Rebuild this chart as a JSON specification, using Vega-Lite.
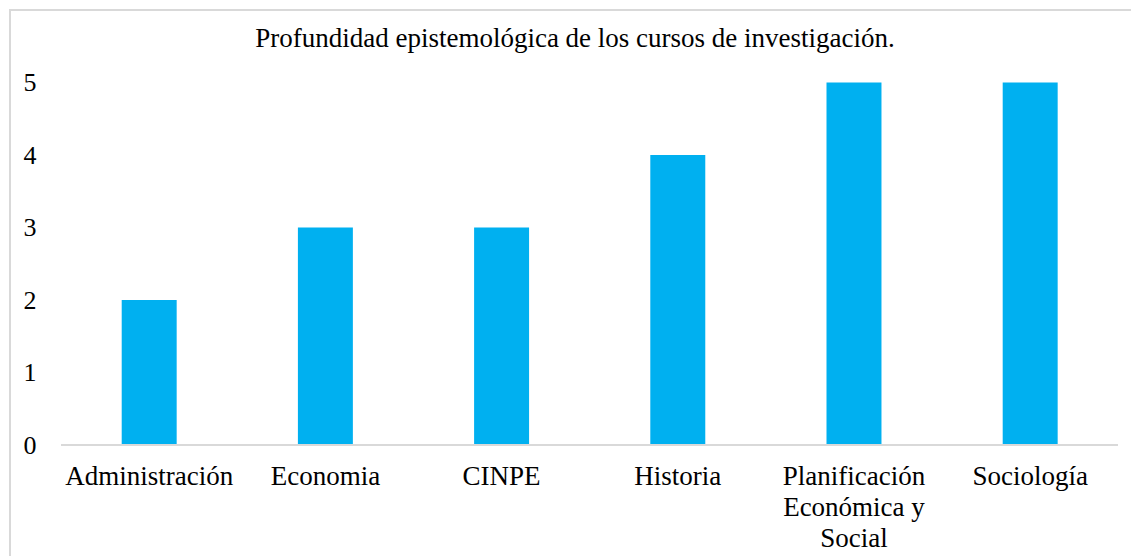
{
  "$schema": "https://vega.github.io/schema/vega-lite/v6.json",
  "width": 1130,
  "height": 560,
  "autosize": {"type": "none"},
  "padding": {"left": 10, "top": 10, "right": -9, "bottom": -14},
  "background": "white",
  "config": {
    "view": {"stroke": "#d9d9d9", "strokeWidth": 2},
    "font": "Liberation Serif"
  },
  "title": {
    "text": "Profundidad epistemológica de los cursos de investigación.",
    "font": "Liberation Serif",
    "fontSize": 27,
    "fontWeight": "normal",
    "color": "#000000",
    "anchor": "middle",
    "baseline": "alphabetic",
    "offset": -64
  },
  "data": {
    "values": [
      {"curso": "Administración", "valor": 2},
      {"curso": "Economia", "valor": 3},
      {"curso": "CINPE", "valor": 3},
      {"curso": "Historia", "valor": 4},
      {"curso": "Planificación Económica y Social", "valor": 5},
      {"curso": "Sociología", "valor": 5}
    ]
  },
  "layer": [
    {
      "mark": {"type": "bar", "color": "#00B0F0"},
      "encoding": {
        "x": {
          "field": "curso",
          "type": "nominal",
          "sort": null,
          "scale": {"paddingInner": 0.688, "paddingOuter": 0.5506, "align": 0.5757},
          "axis": {
            "title": null,
            "orient": "bottom",
            "offset": -125,
            "domain": false,
            "ticks": false,
            "labelFont": "Liberation Serif",
            "labelFontSize": 27,
            "labelColor": "#000000",
            "labelAngle": 0,
            "labelPadding": 18,
            "labelLineHeight": 31,
            "labelBaseline": "top",
            "labelLimit": 0,
            "labelExpr": "datum.label == 'Planificación Económica y Social' ? ['Planificación', 'Económica y', 'Social'] : datum.label"
          }
        },
        "y": {
          "field": "valor",
          "type": "quantitative",
          "scale": {"domain": [-1.724, 6], "nice": false, "zero": false},
          "axis": {
            "title": null,
            "values": [0, 1, 2, 3, 4, 5],
            "format": "d",
            "offset": -26,
            "domain": false,
            "ticks": false,
            "grid": false,
            "labelPadding": 0,
            "labelFont": "Liberation Serif",
            "labelFontSize": 26,
            "labelColor": "#000000"
          }
        }
      }
    },
    {
      "data": {"values": [{}]},
      "mark": {"type": "rule", "color": "#d9d9d9", "strokeWidth": 2},
      "encoding": {
        "x": {"datum": 0, "type": "quantitative", "scale": {"domain": [-0.04825, 1.02081], "nice": false, "zero": false}, "axis": null},
        "x2": {"datum": 1},
        "y": {"datum": 0, "type": "quantitative", "scale": {"domain": [-1.724, 6], "nice": false, "zero": false}}
      }
    }
  ],
  "resolve": {"scale": {"x": "independent"}}
}
